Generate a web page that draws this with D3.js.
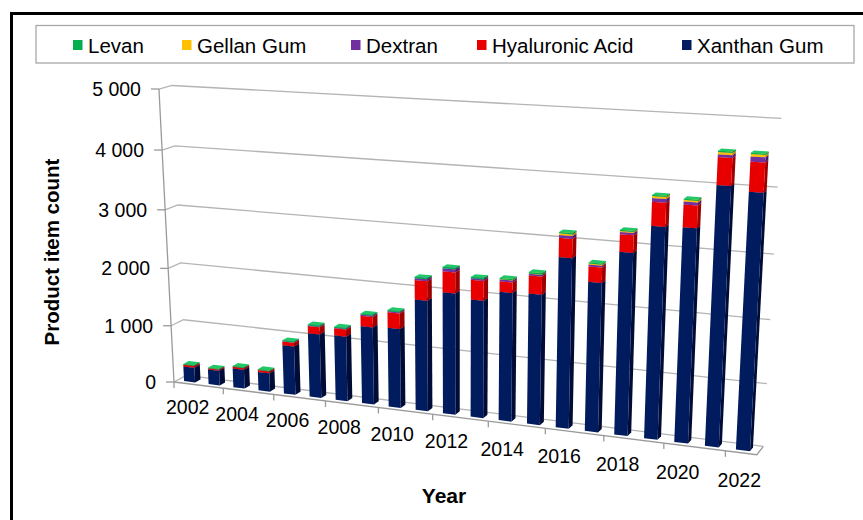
<!DOCTYPE html>
<html>
<head>
<meta charset="utf-8">
<script src="https://cdn.jsdelivr.net/npm/d3@7"></script>
<style>
  body { margin: 0; background: #fff; }
  svg text { font-family: "Liberation Sans", Arial, sans-serif; fill: #000; }
</style>
</head>
<body>
<div id="chart"></div>
<script>
// ---- data ----
const years = d3.range(2002, 2023).map(String);
const xanthanGum     = [261, 261, 331, 324, 840, 1096, 1111, 1316, 1337, 1853, 2017, 1943, 2112, 2129, 2751, 2405, 2913, 3349, 3366, 4031, 3965];
const hyaluronicAcid = [30, 20, 30, 32, 65, 125, 120, 175, 260, 320, 340, 320, 170, 290, 300, 240, 270, 365, 340, 410, 440];
const dextran        = [0, 0, 0, 0, 7, 10, 10, 18, 14, 30, 50, 25, 30, 25, 45, 30, 35, 55, 45, 40, 75];
const gellanGum      = [0, 0, 0, 0, 0, 0, 0, 0, 0, 0, 0, 0, 4, 5, 25, 15, 15, 30, 25, 32, 35];
const levan          = [15, 11, 14, 14, 15, 19, 17, 20, 20, 22, 22, 22, 20, 25, 20, 17, 18, 18, 18, 20, 18];
const valueTicks = [0, 1000, 2000, 3000, 4000, 5000];

const seriesNames = ["Xanthan Gum", "Hyaluronic Acid", "Dextran", "Gellan Gum", "Levan"];
const seriesValues = [xanthanGum, hyaluronicAcid, dextran, gellanGum, levan];

const W = 863, H = 520;

// colours: front / side / top of each series
const colors = {
  "Xanthan Gum":     ["#001b5e", "#000c36", "#0d2d86"],
  "Hyaluronic Acid": ["#e80000", "#9e0000", "#ff3a3a"],
  "Dextran":         ["#7030a0", "#4a1d6c", "#8d4cbe"],
  "Gellan Gum":      ["#ffc000", "#b98a00", "#ffd24a"],
  "Levan":           ["#00b050", "#007634", "#20c867"]
};

// ---- 3d box and camera ----
const boxW = 588.7, boxH = 291, boxD = 24.4;   // categories, values, depth
const barDepth = 11;
const cam = { yaw: 24.4, pitch: 18.9, roll: -0.8, f: 1884, cx: 383, cy: 443, origin: [-209, 61, 1884] };

const rad = Math.PI / 180;
const cY = Math.cos(cam.yaw * rad), sY = Math.sin(cam.yaw * rad);
const cP = Math.cos(cam.pitch * rad), sP = Math.sin(cam.pitch * rad);
const cR = Math.cos(cam.roll * rad), sR = Math.sin(cam.roll * rad);

function project([x, y, z]) {
  const x1 = x * cY + z * sY, z1 = -x * sY + z * cY;
  const y2 = y * cP + z1 * sP, z2 = z1 * cP - y * sP;
  const x3 = x1 * cR + y2 * sR, y3 = -x1 * sR + y2 * cR;
  const px = x3 + cam.origin[0], py = y3 + cam.origin[1], pz = z2 + cam.origin[2];
  return [cam.cx + cam.f * px / pz, cam.cy - cam.f * py / pz];
}

const x = d3.scaleBand().domain(years).range([0, boxW]).paddingInner(0.55).paddingOuter(0.275);
const y = d3.scaleLinear().domain([0, 5000]).range([0, boxH]);

const rows = years.map((yr, i) => {
  const r = { year: yr };
  seriesNames.forEach((s, k) => r[s] = seriesValues[k][i]);
  return r;
});
const stacked = d3.stack().keys(seriesNames)(rows);

const line = d3.line();
const poly = pts => line(pts.map(project)) + "Z";

const svg = d3.select("#chart").append("svg")
  .attr("width", W).attr("height", H);

// outer frame
svg.append("rect")
  .attr("x", 11.5).attr("y", 13.5).attr("width", 880).attr("height", 540)
  .attr("fill", "none").attr("stroke", "#000").attr("stroke-width", 3);

// gridlines: side wall + back wall
const grid = svg.append("g").attr("fill", "none").attr("stroke", "#b4b4b4").attr("stroke-width", 1.3);
valueTicks.forEach(v => {
  grid.append("path").attr("d", line([[0, y(v), 0], [0, y(v), boxD], [boxW, y(v), boxD]].map(project)));
});

// floor edges and value axis
const axes = svg.append("g").attr("fill", "none").attr("stroke", "#9a9a9a").attr("stroke-width", 1.3);
axes.append("path").attr("d", line([[0, 0, 0], [boxW, 0, 0], [boxW, 0, boxD]].map(project)));
axes.append("path").attr("d", line([[0, 0, 0], [0, boxH, 0]].map(project)));

valueTicks.forEach(v => {
  const [px, py] = project([0, y(v), 0]);
  axes.append("path").attr("d", `M${px - 8},${py}H${px}`);
  svg.append("text")
    .attr("x", px - 18).attr("y", py).attr("dy", "0.35em")
    .attr("text-anchor", "end").attr("font-size", 19.5)
    .text(d3.format(",")(v).replace(/,/g, " "));
});

// category ticks every second year
years.forEach((yr, i) => {
  if (i % 2) return;
  const [px, py] = project([i * x.step(), 0, 0]);
  axes.append("path").attr("d", `M${px},${py}V${py + 6}`);
  const [lx, ly] = project([x(yr) + x.bandwidth() / 2, -32, 0]);
  svg.append("text")
    .attr("x", lx).attr("y", ly)
    .attr("text-anchor", "middle").attr("font-size", 19.5)
    .text(yr);
});

// bars
const z0 = (boxD - barDepth) / 2, z1 = z0 + barDepth;
const bars = svg.append("g");
years.forEach((yr, i) => {
  const x0 = x(yr), x1 = x0 + x.bandwidth();
  stacked.forEach(layer => {
    const [v0, v1] = layer[i];
    if (v1 - v0 <= 0) return;
    const b = y(v0), t = y(v1);
    const [front, side, top] = colors[layer.key];
    bars.append("path").attr("fill", side)
      .attr("d", poly([[x1, b, z0], [x1, b, z1], [x1, t, z1], [x1, t, z0]]));
    bars.append("path").attr("fill", front)
      .attr("d", poly([[x0, b, z0], [x1, b, z0], [x1, t, z0], [x0, t, z0]]));
    bars.append("path").attr("fill", top)
      .attr("d", poly([[x0, t, z0], [x1, t, z0], [x1, t, z1], [x0, t, z1]]));
  });
});

// axis titles
svg.append("text")
  .attr("transform", "translate(52,252) rotate(-90)")
  .attr("dy", "0.35em").attr("text-anchor", "middle")
  .attr("font-size", 20.5).attr("font-weight", "bold")
  .text("Product item count");
svg.append("text")
  .attr("x", 444).attr("y", 503).attr("text-anchor", "middle")
  .attr("font-size", 21).attr("font-weight", "bold")
  .text("Year");

// legend
const legendItems = ["Levan", "Gellan Gum", "Dextran", "Hyaluronic Acid", "Xanthan Gum"];
const legendX = [73, 182, 351, 477, 682];
const legend = svg.append("g");
legend.append("rect")
  .attr("x", 36).attr("y", 25.5).attr("width", 818).attr("height", 37.5)
  .attr("fill", "#fff").attr("stroke", "#a8a8a8").attr("stroke-width", 1.3);
legendItems.forEach((name, i) => {
  legend.append("rect")
    .attr("x", legendX[i]).attr("y", 40).attr("width", 9.5).attr("height", 10)
    .attr("fill", colors[name][0]);
  legend.append("text")
    .attr("x", legendX[i] + 15).attr("y", 52.5)
    .attr("font-size", 20.5)
    .text(name);
});
</script>
</body>
</html>
